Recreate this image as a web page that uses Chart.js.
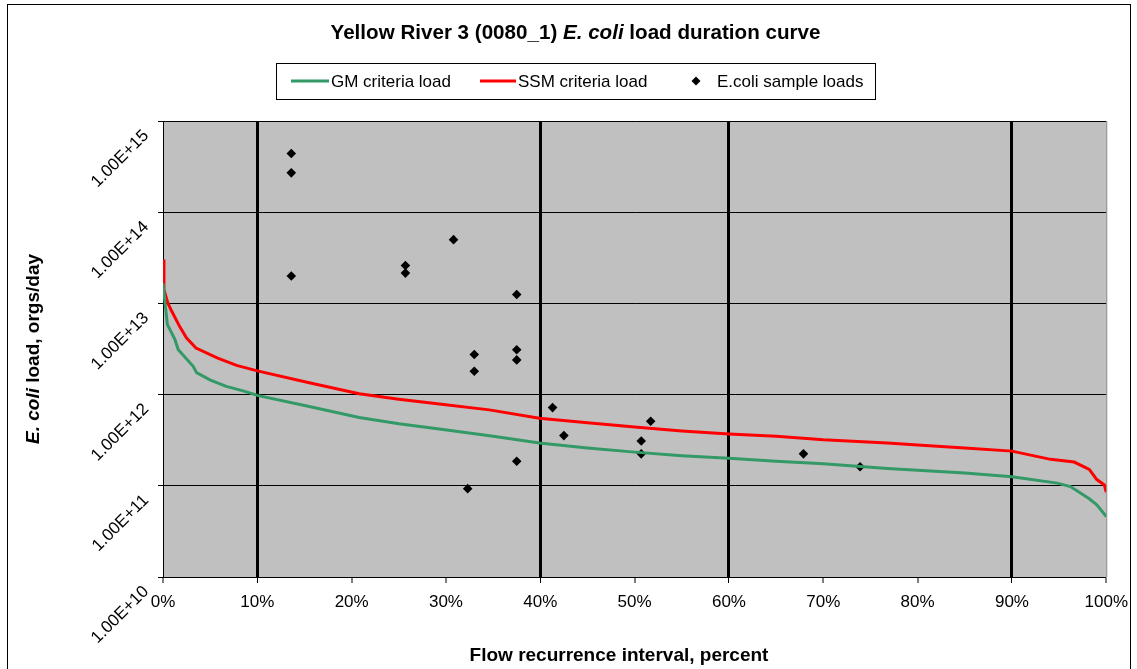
<!DOCTYPE html>
<html><head><meta charset="utf-8">
<script src="https://cdn.jsdelivr.net/npm/chart.js@4.4.0/dist/chart.umd.min.js"></script>
<style>html,body{margin:0;padding:0;background:#fff;} #wrap{width:1137px;height:669px;position:relative;}</style>
</head><body><div id="wrap"><canvas id="c"></canvas></div>
<script>
const FONT = "'Liberation Sans', Arial, Helvetica, sans-serif";

// ---- Text ----
const titleBefore = "Yellow River 3 (0080_1) ";
const titleItalic = "E. coli";
const titleAfter = " load duration curve";
const yTitleItalic = "E. coli";
const yTitleAfter = " load, orgs/day";
const xTitle = "Flow recurrence interval, percent";

// ---- Ticks ----
const xTickValues = [0, 10, 20, 30, 40, 50, 60, 70, 80, 90, 100];
const yTickValues = [1e10, 1e11, 1e12, 1e13, 1e14, 1e15];
const majorXLines = [10, 40, 60, 90];

// ---- Series: GM criteria load ----
const gmPct  = [0, 0.46, 1.27, 1.62, 3.2, 3.56, 4.97, 6.7, 8.5, 10, 15.5, 20.8, 25, 29.3, 35, 39.9, 45, 50, 55, 60, 65, 70, 76.8, 80, 85, 90, 94.8, 96.2, 98.2, 99.0, 100];
const gmLoad = [1.66e13, 5.9e12, 4.0e12, 3.1e12, 2.04e12, 1.74e12, 1.45e12, 1.23e12, 1.10e12, 9.8e11, 7.4e11, 5.6e11, 4.8e11, 4.2e11, 3.5e11, 2.95e11, 2.6e11, 2.34e11, 2.14e11, 2.0e11, 1.86e11, 1.74e11, 1.55e11, 1.48e11, 1.38e11, 1.26e11, 1.07e11, 9.8e10, 7.2e10, 6.2e10, 4.6e10];

// ---- Series: SSM criteria load ----
const ssmPct  = [0, 0.1, 0.5, 0.9, 1.8, 2.5, 3.5, 5.8, 7.8, 10, 15.5, 20.8, 25, 29.3, 34.6, 39.9, 45, 50, 55, 60, 65, 70, 76.8, 80, 85, 90, 94.1, 96.6, 98.2, 99.0, 99.8, 100];
const ssmLoad = [3.02e13, 1.41e13, 1.02e13, 8.3e12, 5.5e12, 4.17e12, 3.24e12, 2.51e12, 2.09e12, 1.82e12, 1.35e12, 1.02e12, 8.9e11, 7.9e11, 6.8e11, 5.5e11, 4.9e11, 4.4e11, 4.0e11, 3.7e11, 3.5e11, 3.2e11, 2.95e11, 2.8e11, 2.6e11, 2.4e11, 1.95e11, 1.82e11, 1.51e11, 1.17e11, 1.02e11, 8.5e10];

// ---- Series: E.coli sample loads ----
const samplePct  = [13.6, 13.6, 13.6, 25.7, 25.7, 30.8, 37.5, 33.0, 33.0, 37.5, 37.5, 32.3, 37.5, 41.3, 42.5, 51.7, 50.7, 50.7, 67.9, 73.9];
const sampleLoad = [4.4e14, 2.7e14, 2.0e13, 2.6e13, 2.15e13, 5.0e13, 1.25e13, 2.75e12, 1.8e12, 3.1e12, 2.4e12, 9.3e10, 1.86e11, 7.2e11, 3.55e11, 5.1e11, 3.1e11, 2.24e11, 2.24e11, 1.62e11];

const seriesLabels = ["GM criteria load", "SSM criteria load", "E.coli sample loads"];
const GREEN = "#339966", RED = "#FF0000";

const toXY = (xs, ys) => xs.map((x, i) => ({x: x, y: ys[i]}));

const decorPlugin = {
  id: 'decor',
  beforeDraw(chart) {
    const ctx = chart.ctx, a = chart.chartArea;
    ctx.save();
    ctx.fillStyle = '#fff';
    ctx.fillRect(0, 0, chart.width, chart.height);
    ctx.fillStyle = '#C0C0C0';
    ctx.fillRect(a.left, a.top, a.right - a.left, a.bottom - a.top);
    ctx.restore();
  },
  afterDraw(chart) {
    const ctx = chart.ctx, a = chart.chartArea;
    ctx.save();
    // right plot edge
    ctx.strokeStyle = '#808080'; ctx.lineWidth = 1;
    ctx.beginPath(); ctx.moveTo(a.right + 0.5, a.top); ctx.lineTo(a.right + 0.5, a.bottom); ctx.stroke();
    // outer frame
    ctx.strokeStyle = '#000';
    ctx.strokeRect(7.5, 4.5, 1123, 700);

    // title (mixed italic)
    const bold = "bold 20.6px " + FONT, boldIt = "italic bold 20.6px " + FONT;
    ctx.fillStyle = '#000'; ctx.textBaseline = 'middle';
    ctx.font = bold; const w1 = ctx.measureText(titleBefore).width, w3 = ctx.measureText(titleAfter).width;
    ctx.font = boldIt; const w2 = ctx.measureText(titleItalic).width;
    let tx = 575.5 - (w1 + w2 + w3) / 2, ty = 33;
    ctx.textAlign = 'left';
    ctx.font = bold; ctx.fillText(titleBefore, tx, ty); tx += w1;
    ctx.font = boldIt; ctx.fillText(titleItalic, tx, ty); tx += w2;
    ctx.font = bold; ctx.fillText(titleAfter, tx, ty);

    // legend
    ctx.fillStyle = '#fff'; ctx.fillRect(276, 63, 599, 36);
    ctx.strokeStyle = '#000'; ctx.lineWidth = 1; ctx.strokeRect(276.5, 63.5, 599, 36);
    const ly = 81;
    ctx.lineWidth = 3;
    ctx.strokeStyle = GREEN; ctx.beginPath(); ctx.moveTo(291, ly); ctx.lineTo(329, ly); ctx.stroke();
    ctx.strokeStyle = RED; ctx.beginPath(); ctx.moveTo(480, ly); ctx.lineTo(516, ly); ctx.stroke();
    ctx.fillStyle = '#000';
    ctx.beginPath(); ctx.moveTo(696, ly - 4.5); ctx.lineTo(700.5, ly); ctx.lineTo(696, ly + 4.5); ctx.lineTo(691.5, ly); ctx.closePath(); ctx.fill();
    ctx.font = "17px " + FONT; ctx.textAlign = 'left'; ctx.textBaseline = 'middle';
    ctx.fillText(seriesLabels[0], 331, ly + 1);
    ctx.fillText(seriesLabels[1], 518, ly + 1);
    ctx.fillText(seriesLabels[2], 717, ly + 1);

    // x axis title
    ctx.font = "bold 19px " + FONT; ctx.textAlign = 'center';
    ctx.fillText(xTitle, 619, 656);

    // y axis title (rotated, mixed italic)
    const yb = "bold 19px " + FONT, ybi = "italic bold 19px " + FONT;
    ctx.font = ybi; const v1 = ctx.measureText(yTitleItalic).width;
    ctx.font = yb; const v2 = ctx.measureText(yTitleAfter).width;
    ctx.translate(34, (a.top + a.bottom) / 2);
    ctx.rotate(-Math.PI / 2);
    ctx.textAlign = 'left';
    let sx = -(v1 + v2) / 2;
    ctx.font = ybi; ctx.fillText(yTitleItalic, sx, 0); sx += v1;
    ctx.font = yb; ctx.fillText(yTitleAfter, sx, 0);
    ctx.restore();
  }
};

new Chart(document.getElementById('c'), {
  type: 'scatter',
  data: {
    datasets: [
      { label: seriesLabels[0], data: toXY(gmPct, gmLoad), showLine: true, borderColor: GREEN, backgroundColor: GREEN, borderWidth: 3, pointRadius: 0, tension: 0 },
      { label: seriesLabels[1], data: toXY(ssmPct, ssmLoad), showLine: true, borderColor: RED, backgroundColor: RED, borderWidth: 3, pointRadius: 0, tension: 0 },
      { label: seriesLabels[2], data: toXY(samplePct, sampleLoad), showLine: false, pointStyle: 'rectRot', pointRadius: 4.8, backgroundColor: '#000', borderColor: '#000', borderWidth: 0 }
    ]
  },
  options: {
    responsive: true, maintainAspectRatio: false, animation: false,
    layout: { padding: { left: 0, right: 25, top: 121, bottom: 0 } },
    plugins: { legend: { display: false }, title: { display: false }, tooltip: { enabled: false } },
    scales: {
      x: {
        type: 'linear', min: 0, max: 100,
        afterBuildTicks: s => { s.ticks = xTickValues.map(v => ({ value: v })); },
        afterFit: s => { s.height = 92; },
        ticks: { callback: v => v + '%', color: '#000', font: { family: FONT, size: 17 }, padding: 9, maxRotation: 0, minRotation: 0 },
        grid: {
          color: '#000',
          lineWidth: c => (c.tick && majorXLines.includes(c.tick.value)) ? 3 : 0,
          tickWidth: 1, tickColor: '#000', tickLength: 6, drawTicks: true
        },
        border: { display: true, color: '#000', width: 1 }
      },
      y: {
        type: 'logarithmic', min: 1e10, max: 1e15,
        afterBuildTicks: s => { s.ticks = yTickValues.map(v => ({ value: v })); },
        afterFit: s => { s.width = 163; },
        ticks: {
          callback: v => Number(v).toExponential(2).toUpperCase(),
          color: '#000', font: { family: FONT, size: 17 },
          minRotation: 45, maxRotation: 45, padding: 12, labelOffset: 12, autoSkip: false
        },
        grid: { color: '#000', lineWidth: 1, tickLength: 5, tickColor: '#000' },
        border: { display: true, color: '#000', width: 1 }
      }
    }
  },
  plugins: [decorPlugin]
});
</script>
</body></html>
